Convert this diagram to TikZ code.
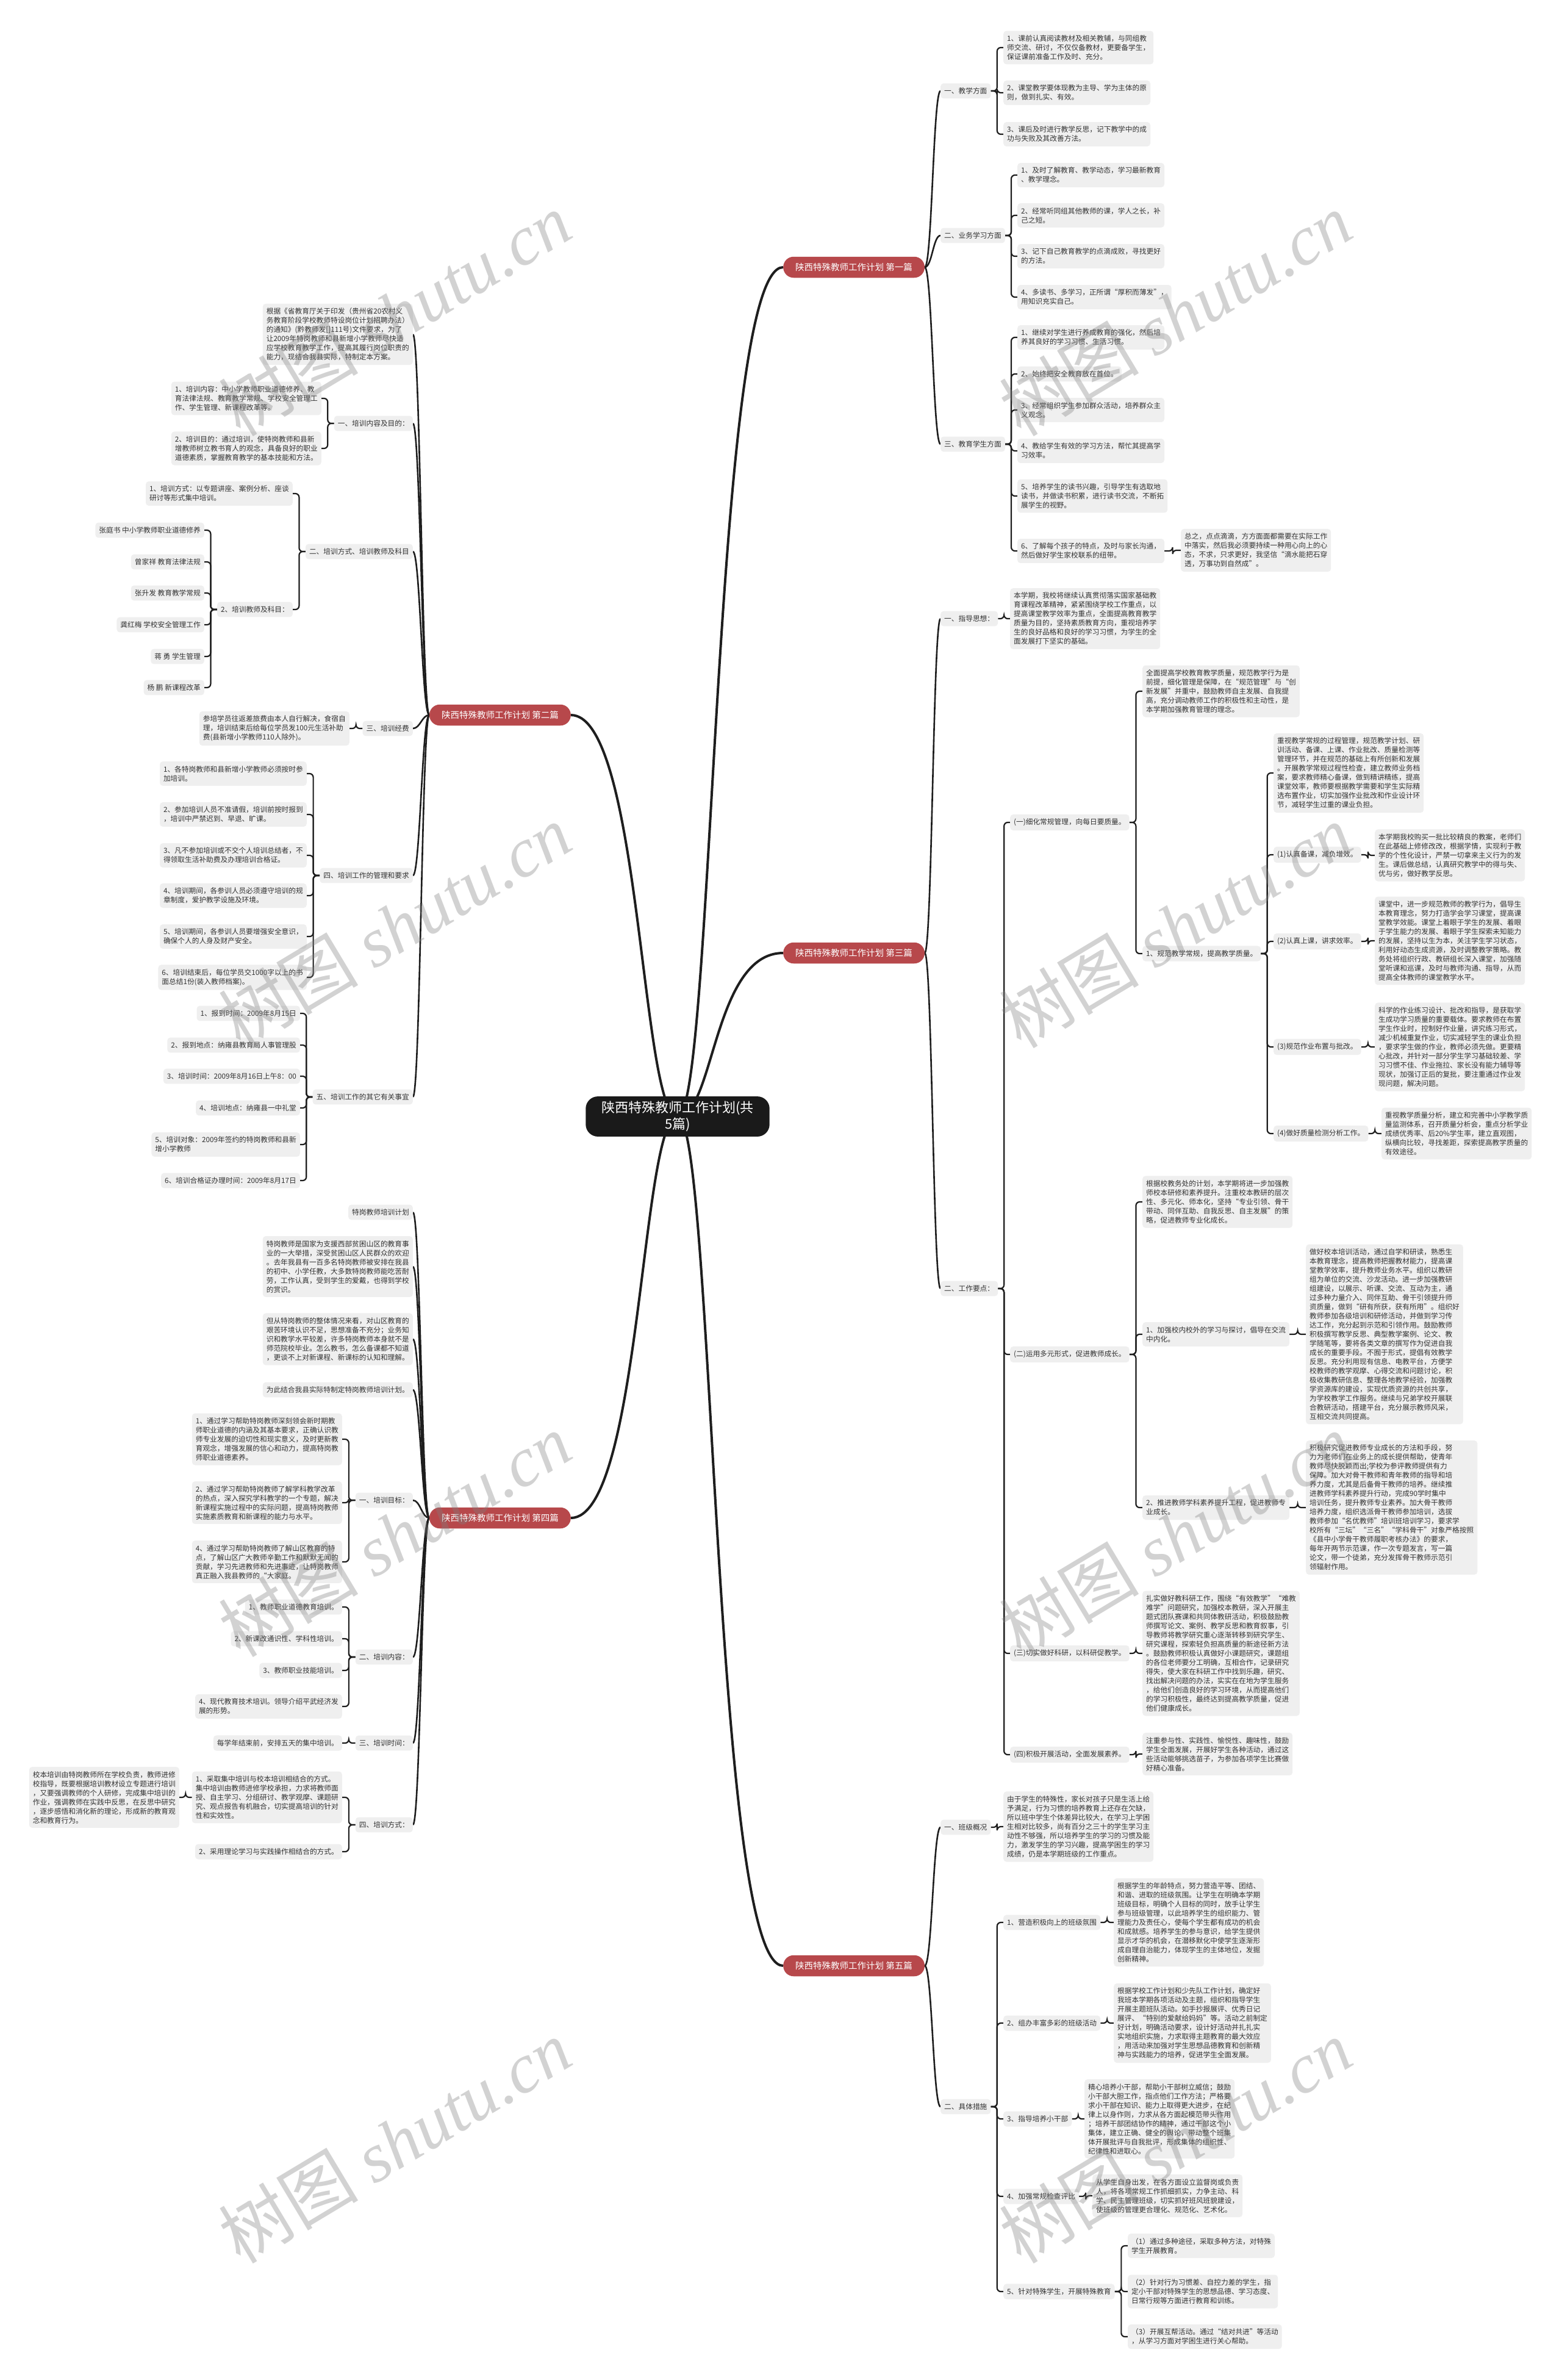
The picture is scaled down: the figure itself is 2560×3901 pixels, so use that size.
\documentclass[tikz,border=0pt]{standalone}
\usepackage{fontspec}
\newfontfamily\cjk{Noto Sans CJK SC}
\newfontfamily\wmserif{Liberation Serif}
\usetikzlibrary{calc,backgrounds}
\definecolor{leafgray}{HTML}{EFEFEF}
\definecolor{txtgray}{HTML}{333333}
\definecolor{branchred}{HTML}{B7484B}
\definecolor{rootblack}{HTML}{1A1A1A}
\definecolor{linecol}{HTML}{1E1E1E}
\newcommand\leaffont{\cjk\fontsize{11.7}{15}\selectfont}
\newcommand\branchfont{\cjk\fontsize{14.5}{18}\selectfont}
\newcommand\rootfont{\cjk\fontsize{22}{27}\selectfont}
\newcommand\wmfont{\fontsize{115}{120}\selectfont}
\newcommand\elbR[2]{\draw[elb] (#1.east) -- ($(#1.east)!0.5!(#2.west |- #1.east)$) |- (#2.west);}
\newcommand\elbL[2]{\draw[elb] (#1.west) -- ($(#1.west)!0.5!(#2.east |- #1.west)$) |- (#2.east);}
\newcommand\crvR[2]{\draw[bc] (#1.east) .. controls +(12,0) and +(-12,0) .. (#2.west);}
\newcommand\crvL[2]{\draw[bc] (#1.west) .. controls +(-12,0) and +(12,0) .. (#2.east);}
\tikzset{
 box/.style={fill=leafgray, rounded corners=5pt, inner xsep=6pt, inner ysep=7pt, align=left, font=\leaffont, text=txtgray},
 boxR/.style={box, anchor=west},
 boxL/.style={box, anchor=east},
 branch/.style={fill=branchred, text=white, rounded corners=17pt, inner xsep=20pt, inner ysep=10.5pt, font=\branchfont},
 root/.style={fill=rootblack, text=white, rounded corners=20pt, inner xsep=26pt, inner ysep=8pt, align=center, font=\rootfont},
 mainc/.style={draw=linecol, line width=4pt},
 bc/.style={draw=linecol, line width=2.6pt},
 elb/.style={draw=linecol, line width=2.2pt, rounded corners=6pt},
 wm/.style={text=black!50, text opacity=0.35, rotate=31, font=\wmfont, inner sep=0pt},
}
\begin{document}
\begin{tikzpicture}[x=1pt,y=-1pt]
\useasboundingbox (0,0) rectangle (2560,3901);
% root
\node[root] (R) at (1111,1830) {陕西特殊教师工作计划(共\\5篇)};
% ---------------- Branch 1
\node[branch,anchor=west] (B1) at (1284,438) {陕西特殊教师工作计划 第一篇};
\node[boxR] (b1a) at (1542,149) {一、教学方面};
\node[boxR] (b1a1) at (1645,78) {1、课前认真阅读教材及相关教辅，与同组教\\师交流、研讨，不仅仅备教材，更要备学生，\\保证课前准备工作及时、充分。};
\node[boxR] (b1a2) at (1645,152) {2、课堂教学要体现教为主导、学为主体的原\\则，做到扎实、有效。};
\node[boxR] (b1a3) at (1645,220) {3、课后及时进行教学反思，记下教学中的成\\功与失败及其改善方法。};
\node[boxR] (b1b) at (1542,386) {二、业务学习方面};
\node[boxR] (b1b1) at (1668,287) {1、及时了解教育、教学动态，学习最新教育\\、教学理念。};
\node[boxR] (b1b2) at (1668,353) {2、经常听同组其他教师的课，学人之长，补\\己之短。};
\node[boxR] (b1b3) at (1668,420) {3、记下自己教育教学的点滴成败，寻找更好\\的方法。};
\node[boxR] (b1b4) at (1668,487) {4、多读书、多学习，正所谓“厚积而薄发”，\\用知识充实自己。};
\node[boxR] (b1c) at (1542,728) {三、教育学生方面};
\node[boxR] (b1c1) at (1668,553) {1、继续对学生进行养成教育的强化，然后培\\养其良好的学习习惯、生活习惯。};
\node[boxR] (b1c2) at (1668,613) {2、始终把安全教育放在首位。};
\node[boxR] (b1c3) at (1668,672) {3、经常组织学生参加群众活动，培养群众主\\义观念。};
\node[boxR] (b1c4) at (1668,739) {4、教给学生有效的学习方法，帮忙其提高学\\习效率。};
\node[boxR] (b1c5) at (1668,813) {5、培养学生的读书兴趣，引导学生有选取地\\读书，并做读书积累，进行读书交流，不断拓\\展学生的视野。};
\node[boxR] (b1c6) at (1668,903) {6、了解每个孩子的特点，及时与家长沟通，\\然后做好学生家校联系的纽带。};
\node[boxR] (b1c6a) at (1936,902) {总之，点点滴滴，方方面面都需要在实际工作\\中落实，然后我必须要持续一种用心向上的心\\态，不求，只求更好，我坚信“滴水能把石穿\\透，万事功到自然成”。};
% ---------------- Branch 2
\node[branch,anchor=east] (B2) at (936,1172) {陕西特殊教师工作计划 第二篇};
\node[boxL] (b2t) at (677,548) {根据《省教育厅关于印发（贵州省20农村义\\务教育阶段学校教师特设岗位计划招聘办法）\\的通知》(黔教师发[]111号)文件要求，为了\\让2009年特岗教师和县新增小学教师尽快适\\应学校教育教学工作，提高其履行岗位职责的\\能力，现结合我县实际，特制定本方案。};
\node[boxL] (b2a) at (677,694) {一、培训内容及目的：};
\node[boxL] (b2a1) at (527,653) {1、培训内容：中小学教师职业道德修养、教\\育法律法规、教育教学常规、学校安全管理工\\作、学生管理、新课程改革等。};
\node[boxL] (b2a2) at (527,735) {2、培训目的：通过培训，使特岗教师和县新\\增教师树立教书育人的观念，具备良好的职业\\道德素质，掌握教育教学的基本技能和方法。};
\node[boxL] (b2b) at (677,904) {二、培训方式、培训教师及科目};
\node[boxL] (b2b1) at (480,809) {1、培训方式：以专题讲座、案例分析、座谈\\研讨等形式集中培训。};
\node[boxL] (b2b2) at (480,999) {2、培训教师及科目：};
\node[boxL] (b2b2a) at (335,869) {张庭书 中小学教师职业道德修养};
\node[boxL] (b2b2b) at (335,921) {曾家祥 教育法律法规};
\node[boxL] (b2b2c) at (335,972) {张升发 教育教学常规};
\node[boxL] (b2b2d) at (335,1024) {龚红梅 学校安全管理工作};
\node[boxL] (b2b2e) at (335,1076) {蒋 勇 学生管理};
\node[boxL] (b2b2f) at (335,1127) {杨 鹏 新课程改革};
\node[boxL] (b2c) at (677,1194) {三、培训经费};
\node[boxL] (b2c1) at (573,1194) {参培学员往返差旅费由本人自行解决，食宿自\\理，培训结束后给每位学员发100元生活补助\\费(县新增小学教师110人除外)。};
\node[boxL] (b2d) at (677,1435) {四、培训工作的管理和要求};
\node[boxL] (b2d1) at (503,1268) {1、各特岗教师和县新增小学教师必须按时参\\加培训。};
\node[boxL] (b2d2) at (503,1335) {2、参加培训人员不准请假，培训前按时报到\\，培训中严禁迟到、早退、旷课。};
\node[boxL] (b2d3) at (503,1402) {3、凡不参加培训或不交个人培训总结者，不\\得领取生活补助费及办理培训合格证。};
\node[boxL] (b2d4) at (503,1468) {4、培训期间，各参训人员必须遵守培训的规\\章制度，爱护教学设施及环境。};
\node[boxL] (b2d5) at (503,1535) {5、培训期间，各参训人员要增强安全意识，\\确保个人的人身及财产安全。};
\node[boxL] (b2d6) at (503,1602) {6、培训结束后，每位学员交1000字以上的书\\面总结1份(装入教师档案)。};
\node[boxL] (b2e) at (677,1798) {五、培训工作的其它有关事宜};
\node[boxL] (b2e1) at (492,1661) {1、报到时间：2009年8月15日};
\node[boxL] (b2e2) at (492,1713) {2、报到地点：纳雍县教育局人事管理股};
\node[boxL] (b2e3) at (492,1764) {3、培训时间：2009年8月16日上午8：00};
\node[boxL] (b2e4) at (492,1816) {4、培训地点：纳雍县一中礼堂};
\node[boxL] (b2e5) at (492,1876) {5、培训对象：2009年签约的特岗教师和县新\\增小学教师};
\node[boxL] (b2e6) at (492,1935) {6、培训合格证办理时间：2009年8月17日};
% ---------------- Branch 3
\node[branch,anchor=west] (B3) at (1284,1562) {陕西特殊教师工作计划 第三篇};
\node[boxR] (b3a) at (1542,1014) {一、指导思想：};
\node[boxR] (b3a1) at (1656,1014) {本学期，我校将继续认真贯彻落实国家基础教\\育课程改革精神，紧紧围绕学校工作重点，以\\提高课堂教学效率为重点，全面提高教育教学\\质量为目的，坚持素质教育方向，重视培养学\\生的良好品格和良好的学习习惯，为学生的全\\面发展打下坚实的基础。};
\node[boxR] (b3b) at (1542,2112) {二、工作要点：};
\node[boxR] (b3b1) at (1656,1348) {(一)细化常规管理，向每日要质量。};
\node[boxR] (b3b1a) at (1873,1133) {全面提高学校教育教学质量，规范教学行为是\\前提，细化管理是保障，在“规范管理”与“创\\新发展”并重中，鼓励教师自主发展、自我提\\高，充分调动教师工作的积极性和主动性，是\\本学期加强教育管理的理念。};
\node[boxR] (b3b1b) at (1873,1563) {1、规范教学常规，提高教学质量。};
\node[boxR] (b3b1b0) at (2088,1267) {重视教学常规的过程管理，规范教学计划、研\\训活动、备课、上课、作业批改、质量检测等\\管理环节，并在规范的基础上有所创新和发展\\。开展教学常规过程性检查，建立教师业务档\\案，要求教师精心备课，做到精讲精练，提高\\课堂效率，教师要根据教学需要和学生实际精\\选布置作业，切实加强作业批改和作业设计环\\节，减轻学生过重的课业负担。};
\node[boxR] (b3b1b1) at (2088,1401) {(1)认真备课，减负增效。};
\node[boxR] (b3b1b1x) at (2254,1402) {本学期我校购买一批比较精良的教案，老师们\\在此基础上修修改改，根据学情，实现利于教\\学的个性化设计，严禁一切拿来主义行为的发\\生。课后做总结，认真研究教学中的得与失、\\优与劣，做好教学反思。};
\node[boxR] (b3b1b2) at (2088,1543) {(2)认真上课，讲求效率。};
\node[boxR] (b3b1b2x) at (2254,1542) {课堂中，进一步规范教师的教学行为，倡导生\\本教育理念，努力打造学会学习课堂，提高课\\堂教学效能。课堂上着眼于学生的发展、着眼\\于学生能力的发展、着眼于学生探索未知能力\\的发展，坚持以生为本，关注学生学习状态，\\利用好动态生成资源，及时调整教学策略。教\\务处将组织行政、教研组长深入课堂，加强随\\堂听课和巡课，及时与教师沟通、指导，从而\\提高全体教师的课堂教学水平。};
\node[boxR] (b3b1b3) at (2088,1716) {(3)规范作业布置与批改。};
\node[boxR] (b3b1b3x) at (2254,1716) {科学的作业练习设计、批改和指导，是获取学\\生成功学习质量的重要载体。要求教师在布置\\学生作业时，控制好作业量，讲究练习形式，\\减少机械重复作业，切实减轻学生的课业负担\\，要求学生做的作业，教师必须先做。更要精\\心批改，并针对一部分学生学习基础较差、学\\习习惯不佳、作业拖拉、家长没有能力辅导等\\现状，加强订正后的复批，要注重通过作业发\\现问题，解决问题。};
\node[boxR] (b3b1b4) at (2088,1858) {(4)做好质量检测分析工作。};
\node[boxR] (b3b1b4x) at (2265,1858) {重视教学质量分析，建立和完善中小学教学质\\量监测体系，召开质量分析会，重点分析学业\\成绩优秀率、后20\%学生率，建立直观图，\\纵横向比较，寻找差距，探索提高教学质量的\\有效途径。};
\node[boxR] (b3b2) at (1656,2220) {(二)运用多元形式，促进教师成长。};
\node[boxR] (b3b2a) at (1873,1970) {根据校教务处的计划，本学期将进一步加强教\\师校本研修和素养提升。注重校本教研的层次\\性、多元化、师本化，坚持“专业引领、骨干\\带动、同伴互助、自我反思、自主发展”的策\\略，促进教师专业化成长。};
\node[boxR] (b3b2b) at (1873,2187) {1、加强校内校外的学习与探讨，倡导在交流\\中内化。};
\node[boxR] (b3b2bx) at (2141,2187) {做好校本培训活动，通过自学和研读，熟悉生\\本教育理念，提高教师把握教材能力，提高课\\堂教学效率，提升教师业务水平。组织以教研\\组为单位的交流、沙龙活动。进一步加强教研\\组建设，以展示、听课、交流、互动为主，通\\过多种力量介入、同伴互助、骨干引领提升师\\资质量，做到“研有所获，获有所用”。组织好\\教师参加各级培训和研修活动，并做到学习传\\达工作，充分起到示范和引领作用。鼓励教师\\积极撰写教学反思、典型教学案例、论文、教\\学随笔等，要将各类文章的撰写作为促进自我\\成长的重要手段。不囿于形式，提倡有效教学\\反思。充分利用现有信息、电教平台，方便学\\校教师的教学观摩、心得交流和问题讨论，积\\极收集教研信息、整理各地教学经验，加强教\\学资源库的建设，实现优质资源的共创共享，\\为学校教学工作服务。继续与兄弟学校开展联\\合教研活动，搭建平台，充分展示教师风采，\\互相交流共同提高。};
\node[boxR] (b3b2c) at (1873,2471) {2、推进教师学科素养提升工程，促进教师专\\业成长。};
\node[boxR] (b3b2cx) at (2141,2471) {积极研究促进教师专业成长的方法和手段，努\\力为老师们在业务上的成长提供帮助，使青年\\教师尽快脱颖而出;学校为参评教师提供有力\\保障。加大对骨干教师和青年教师的指导和培\\养力度，尤其是后备骨干教师的培养。继续推\\进教师学科素养提升行动，完成90学时集中\\培训任务，提升教师专业素养。加大骨干教师\\培养力度，组织选派骨干教师参加培训，选拔\\教师参加“名优教师”培训班培训学习，要求学\\校所有“三坛”“三名”“学科骨干”对象严格按照\\《县中小学骨干教师履职考核办法》的要求，\\每年开两节示范课，作一次专题发言，写一篇\\论文，带一个徒弟，充分发挥骨干教师示范引\\领辐射作用。};
\node[boxR] (b3b3) at (1656,2710) {(三)切实做好科研，以科研促教学。};
\node[boxR] (b3b3x) at (1873,2710) {扎实做好教科研工作，围绕“有效教学”“难教\\难学”问题研究，加强校本教研，深入开展主\\题式团队赛课和共同体教研活动，积极鼓励教\\师撰写论文、案例、教学反思和教育叙事，引\\导教师将教学研究重心逐渐转移到研究学生、\\研究课程，探索轻负担高质量的新途径新方法\\。鼓励教师积极认真做好小课题研究，课题组\\的各位老师要分工明确，互相合作，记录研究\\得失，使大家在科研工作中找到乐趣，研究、\\找出解决问题的办法，实实在在地为学生服务\\，给他们创造良好的学习环境，从而提高他们\\的学习积极性，最终达到提高教学质量，促进\\他们健康成长。};
\node[boxR] (b3b4) at (1656,2876) {(四)积极开展活动，全面发展素养。};
\node[boxR] (b3b4x) at (1873,2875) {注重参与性、实践性、愉悦性、趣味性，鼓励\\学生全面发展，开展好学生各种活动，通过这\\些活动能够挑选苗子，为参加各项学生比赛做\\好精心准备。};
% ---------------- Branch 4
\node[branch,anchor=east] (B4) at (936,2488) {陕西特殊教师工作计划 第四篇};
\node[boxL] (b4a) at (677,1987) {特岗教师培训计划};
\node[boxL] (b4b) at (677,2076) {特岗教师是国家为支援西部贫困山区的教育事\\业的一大举措，深受贫困山区人民群众的欢迎\\。去年我县有一百多名特岗教师被安排在我县\\的初中、小学任教，大多数特岗教师能吃苦耐\\劳，工作认真，受到学生的爱戴，也得到学校\\的赏识。};
\node[boxL] (b4c) at (677,2195) {但从特岗教师的整体情况来看，对山区教育的\\艰苦环境认识不足，思想准备不充分；业务知\\识和教学水平较差，许多特岗教师本身就不是\\师范院校毕业。怎么教书，怎么备课都不知道\\，更谈不上对新课程、新课标的认知和理解。};
\node[boxL] (b4d) at (677,2278) {为此结合我县实际特制定特岗教师培训计划。};
\node[boxL] (b4e) at (677,2459) {一、培训目标：};
\node[boxL] (b4e1) at (561,2359) {1、通过学习帮助特岗教师深刻领会新时期教\\师职业道德的内涵及其基本要求，正确认识教\\师专业发展的迫切性和现实意义，及时更新教\\育观念，增强发展的信心和动力，提高特岗教\\师职业道德素养。};
\node[boxL] (b4e2) at (561,2463) {2、通过学习帮助特岗教师了解学科教学改革\\的热点，深入探究学科教学的一个专题，解决\\新课程实施过程中的实际问题，提高特岗教师\\实施素质教育和新课程的能力与水平。};
\node[boxL] (b4e4) at (561,2560) {4、通过学习帮助特岗教师了解山区教育的特\\点，了解山区广大教师辛勤工作和默默无闻的\\贡献，学习先进教师和先进事迹，让特岗教师\\真正融入我县教师的“大家庭。};
\node[boxL] (b4f) at (677,2716) {二、培训内容：};
\node[boxL] (b4f1) at (561,2634) {1、教师职业道德教育培训。};
\node[boxL] (b4f2) at (561,2686) {2、新课改通识性、学科性培训。};
\node[boxL] (b4f3) at (561,2738) {3、教师职业技能培训。};
\node[boxL] (b4f4) at (561,2797) {4、现代教育技术培训。领导介绍平武经济发\\展的形势。};
\node[boxL] (b4g) at (677,2857) {三、培训时间：};
\node[boxL] (b4g1) at (561,2857) {每学年结束前，安排五天的集中培训。};
\node[boxL] (b4h) at (677,2991) {四、培训方式：};
\node[boxL] (b4h1) at (561,2946) {1、采取集中培训与校本培训相结合的方式。\\集中培训由教师进修学校承担，力求将教师面\\授、自主学习、分组研讨、教学观摩、课题研\\究、观点报告有机融合，切实提高培训的针对\\性和实效性。};
\node[boxL] (b4h1x) at (294,2946) {校本培训由特岗教师所在学校负责，教师进修\\校指导，既要根据培训教材设立专题进行培训\\，又要强调教师的个人研修，完成集中培训的\\作业，强调教师在实践中反思，在反思中研究\\，逐步感悟和消化新的理论，形成新的教育观\\念和教育行为。};
\node[boxL] (b4h2) at (561,3035) {2、采用理论学习与实践操作相结合的方式。};
% ---------------- Branch 5
\node[branch,anchor=west] (B5) at (1284,3222) {陕西特殊教师工作计划 第五篇};
\node[boxR] (b5a) at (1542,2995) {一、班级概况};
\node[boxR] (b5a1) at (1645,2994) {由于学生的特殊性，家长对孩子只是生活上给\\予满足，行为习惯的培养教育上还存在欠缺，\\所以班中学生个体差异比较大，在学习上学困\\生相对比较多，尚有百分之三十的学生学习主\\动性不够强，所以培养学生的学习的习惯及能\\力，激发学生的学习兴趣，提高学困生的学习\\成绩，仍是本学期班级的工作重点。};
\node[boxR] (b5b) at (1542,3453) {二、具体措施};
\node[boxR] (b5b1) at (1645,3151) {1、营造积极向上的班级氛围};
\node[boxR] (b5b1x) at (1826,3151) {根据学生的年龄特点，努力营造平等、团结、\\和谐、进取的班级氛围。让学生在明确本学期\\班级目标，明确个人目标的同时，放手让学生\\参与班级管理，以此培养学生的组织能力、管\\理能力及责任心，使每个学生都有成功的机会\\和成就感。培养学生的参与意识，给学生提供\\显示才华的机会，在潜移默化中使学生逐渐形\\成自理自治能力，体现学生的主体地位，发掘\\创新精神。};
\node[boxR] (b5b2) at (1645,3316) {2、组办丰富多彩的班级活动};
\node[boxR] (b5b2x) at (1826,3316) {根据学校工作计划和少先队工作计划，确定好\\我班本学期各项活动及主题，组织和指导学生\\开展主题班队活动。如手抄报展评、优秀日记\\展评、“特别的爱献给妈妈”等。活动之前制定\\好计划，明确活动要求，设计好活动并扎扎实\\实地组织实施，力求取得主题教育的最大效应\\，用活动来加强对学生思想品德教育和创新精\\神与实践能力的培养，促进学生全面发展。};
\node[boxR] (b5b3) at (1645,3473) {3、指导培养小干部};
\node[boxR] (b5b3x) at (1778,3473) {精心培养小干部，帮助小干部树立威信；鼓励\\小干部大胆工作，指点他们工作方法；严格要\\求小干部在知识、能力上取得更大进步，在纪\\律上以身作则，力求从各方面起模范带头作用\\；培养干部团结协作的精神，通过干部这个小\\集体，建立正确、健全的舆论，带动整个班集\\体开展批评与自我批评，形成集体的组织性、\\纪律性和进取心。};
\node[boxR] (b5b4) at (1645,3600) {4、加强常规检查评比};
\node[boxR] (b5b4x) at (1791,3599) {从学生自身出发，在各方面设立监督岗或负责\\人，将各项常规工作抓细抓实，力争主动、科\\学、民主管理班级，切实抓好班风班貌建设，\\使班级的管理更合理化、规范化、艺术化。};
\node[boxR] (b5b5) at (1645,3756) {5、针对特殊学生，开展特殊教育};
\node[boxR] (b5b5a) at (1849,3681) {（1）通过多种途径，采取多种方法，对特殊\\学生开展教育。};
\node[boxR] (b5b5b) at (1849,3756) {（2）针对行为习惯差、自控力差的学生，指\\定小干部对特殊学生的思想品德、学习态度、\\日常行规等方面进行教育和训练。};
\node[boxR] (b5b5c) at (1849,3830) {（3）开展互帮活动。通过“结对共进”等活动\\，从学习方面对学困生进行关心帮助。};
% ---------------- connectors
\begin{scope}[on background layer]
\fill[white] (0,0) rectangle (2560,3901);
\draw[mainc] (R.center) .. controls +(60,0) and +(-115,0) .. (B1.west);
\draw[mainc] (R.center) .. controls +(60,0) and +(-115,0) .. (B3.west);
\draw[mainc] (R.center) .. controls +(60,0) and +(-115,0) .. (B5.west);
\draw[mainc] (R.center) .. controls +(-60,0) and +(115,0) .. (B2.east);
\draw[mainc] (R.center) .. controls +(-60,0) and +(115,0) .. (B4.east);
\foreach \c in {b1a,b1b,b1c} {\crvR{B1}{\c}}
\foreach \c in {b1a1,b1a2,b1a3} {\elbR{b1a}{\c}}
\foreach \c in {b1b1,b1b2,b1b3,b1b4} {\elbR{b1b}{\c}}
\foreach \c in {b1c1,b1c2,b1c3,b1c4,b1c5,b1c6} {\elbR{b1c}{\c}}
\elbR{b1c6}{b1c6a}
\foreach \c in {b2t,b2a,b2b,b2c,b2d,b2e} {\crvL{B2}{\c}}
\foreach \c in {b2a1,b2a2} {\elbL{b2a}{\c}}
\foreach \c in {b2b1,b2b2} {\elbL{b2b}{\c}}
\foreach \c in {b2b2a,b2b2b,b2b2c,b2b2d,b2b2e,b2b2f} {\elbL{b2b2}{\c}}
\elbL{b2c}{b2c1}
\foreach \c in {b2d1,b2d2,b2d3,b2d4,b2d5,b2d6} {\elbL{b2d}{\c}}
\foreach \c in {b2e1,b2e2,b2e3,b2e4,b2e5,b2e6} {\elbL{b2e}{\c}}
\foreach \c in {b3a,b3b} {\crvR{B3}{\c}}
\elbR{b3a}{b3a1}
\foreach \c in {b3b1,b3b2,b3b3,b3b4} {\elbR{b3b}{\c}}
\foreach \c in {b3b1a,b3b1b} {\elbR{b3b1}{\c}}
\foreach \c in {b3b1b0,b3b1b1,b3b1b2,b3b1b3,b3b1b4} {\elbR{b3b1b}{\c}}
\elbR{b3b1b1}{b3b1b1x}
\elbR{b3b1b2}{b3b1b2x}
\elbR{b3b1b3}{b3b1b3x}
\elbR{b3b1b4}{b3b1b4x}
\foreach \c in {b3b2a,b3b2b,b3b2c} {\elbR{b3b2}{\c}}
\elbR{b3b2b}{b3b2bx}
\elbR{b3b2c}{b3b2cx}
\elbR{b3b3}{b3b3x}
\elbR{b3b4}{b3b4x}
\foreach \c in {b4a,b4b,b4c,b4d,b4e,b4f,b4g,b4h} {\crvL{B4}{\c}}
\foreach \c in {b4e1,b4e2,b4e4} {\elbL{b4e}{\c}}
\foreach \c in {b4f1,b4f2,b4f3,b4f4} {\elbL{b4f}{\c}}
\elbL{b4g}{b4g1}
\foreach \c in {b4h1,b4h2} {\elbL{b4h}{\c}}
\elbL{b4h1}{b4h1x}
\foreach \c in {b5a,b5b} {\crvR{B5}{\c}}
\elbR{b5a}{b5a1}
\foreach \c in {b5b1,b5b2,b5b3,b5b4,b5b5} {\elbR{b5b}{\c}}
\elbR{b5b1}{b5b1x}
\elbR{b5b2}{b5b2x}
\elbR{b5b3}{b5b3x}
\elbR{b5b4}{b5b4x}
\foreach \c in {b5b5a,b5b5b,b5b5c} {\elbR{b5b5}{\c}}
\end{scope}
% ---------------- watermarks
\foreach \wx in {647,1927} {
 \foreach \wy in {515,1518,2516,3510} {
  \node[wm] at (\wx,\wy) {\cjk 树图 {\wmserif\itshape shutu.cn}};
 }
}
\end{tikzpicture}
\end{document}
